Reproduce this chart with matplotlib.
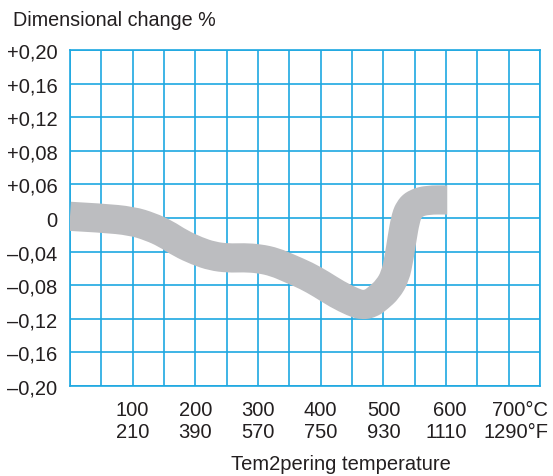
import numpy as np
import matplotlib
matplotlib.use('Agg')
import matplotlib.pyplot as plt
import matplotlib.transforms as mtransforms
from matplotlib.path import Path
from matplotlib.patches import PathPatch

# y axis ticks (grid rows are evenly spaced, labels are as printed)
y_ticks = [-0.20, -0.16, -0.12, -0.08, -0.04, 0.0, 0.04, 0.08, 0.12, 0.16, 0.20]
y_labels = ['–0,20', '–0,16', '–0,12', '–0,08', '–0,04', '0',
            '+0,06', '+0,08', '+0,12', '+0,16', '+0,20']

# x axis: tempering temperature in °C with °F below
temp_c = [100, 200, 300, 400, 500, 600, 700]
temp_labels = ['100\n210', '200\n390', '300\n570', '400\n750',
               '500\n930', '600\n1110', '700°C\n1290°F']

# band centre line (temperature °C, change in grid units)
curve_t = [0, 50, 99, 128, 152, 176, 203, 227, 252, 278, 302, 327, 351, 377,
           401, 426, 452, 466, 480, 492, 507, 519, 525, 530, 535, 541, 552, 571, 602]
curve_v = [0.002, 0.0, -0.0036, -0.0104, -0.0185, -0.030, -0.0394, -0.0454,
           -0.0478, -0.0472, -0.0484, -0.0525, -0.0603, -0.0687, -0.0788,
           -0.0907, -0.1003, -0.1036, -0.1018, -0.0950, -0.0848, -0.0693,
           -0.0478, -0.0239, -0.0024, 0.0107, 0.0179, 0.0215, 0.0215]

text_col = '#231f20'
grid_col = '#1ea8e1'
plt.rcParams['font.family'] = ['Liberation Sans', 'DejaVu Sans']

fig = plt.figure(figsize=(5.53, 4.77), dpi=100)
ax = fig.add_axes([70 / 553, 1 - 387 / 477, 470 / 553, 336 / 477])

# smooth the band with quadratic curves through the read points
pts = np.column_stack([curve_t, curve_v])
verts = [pts[0]]
codes = [Path.MOVETO]
for i in range(1, len(pts) - 1):
    verts += [pts[i], (pts[i] + pts[i + 1]) / 2]
    codes += [Path.CURVE3, Path.CURVE3]
verts.append(pts[-1])
codes.append(Path.LINETO)
band = PathPatch(Path(verts, codes), facecolor='none', edgecolor='#bcbdc0',
                 linewidth=21, capstyle='butt', joinstyle='round', zorder=3)
ax.add_patch(band)

ax.set_xlim(0, 750)
ax.set_ylim(-0.20, 0.20)
ax.set_xticks(temp_c)
ax.set_xticklabels(temp_labels, multialignment='right')
ax.set_xticks(np.arange(0, 751, 50), minor=True)
ax.set_yticks(y_ticks)
ax.set_yticklabels(y_labels)

ax.grid(True, which='both', color=grid_col, linewidth=1.2, zorder=1)
ax.set_axisbelow(True)
for s in ax.spines.values():
    s.set_color(grid_col)
    s.set_linewidth(1.2)

ax.tick_params(which='both', length=0, labelsize=14.5, colors=text_col)
ax.tick_params(axis='y', pad=9)
ax.tick_params(axis='x', pad=10)

# last label sits a little right of its grid line in the original
last = ax.get_xticklabels()[-1]
last.set_transform(last.get_transform() +
                   mtransforms.ScaledTranslation(7 / 100, 0, fig.dpi_scale_trans))

fig.text(13 / 553, 1 - 26 / 477, 'Dimensional change %', fontsize=14.2,
         color=text_col, va='baseline', ha='left')
fig.text(341 / 553, 1 - 470 / 477, 'Tem2pering temperature', fontsize=14.5,
         color=text_col, va='baseline', ha='center')

fig.savefig('out.png', dpi=100)
